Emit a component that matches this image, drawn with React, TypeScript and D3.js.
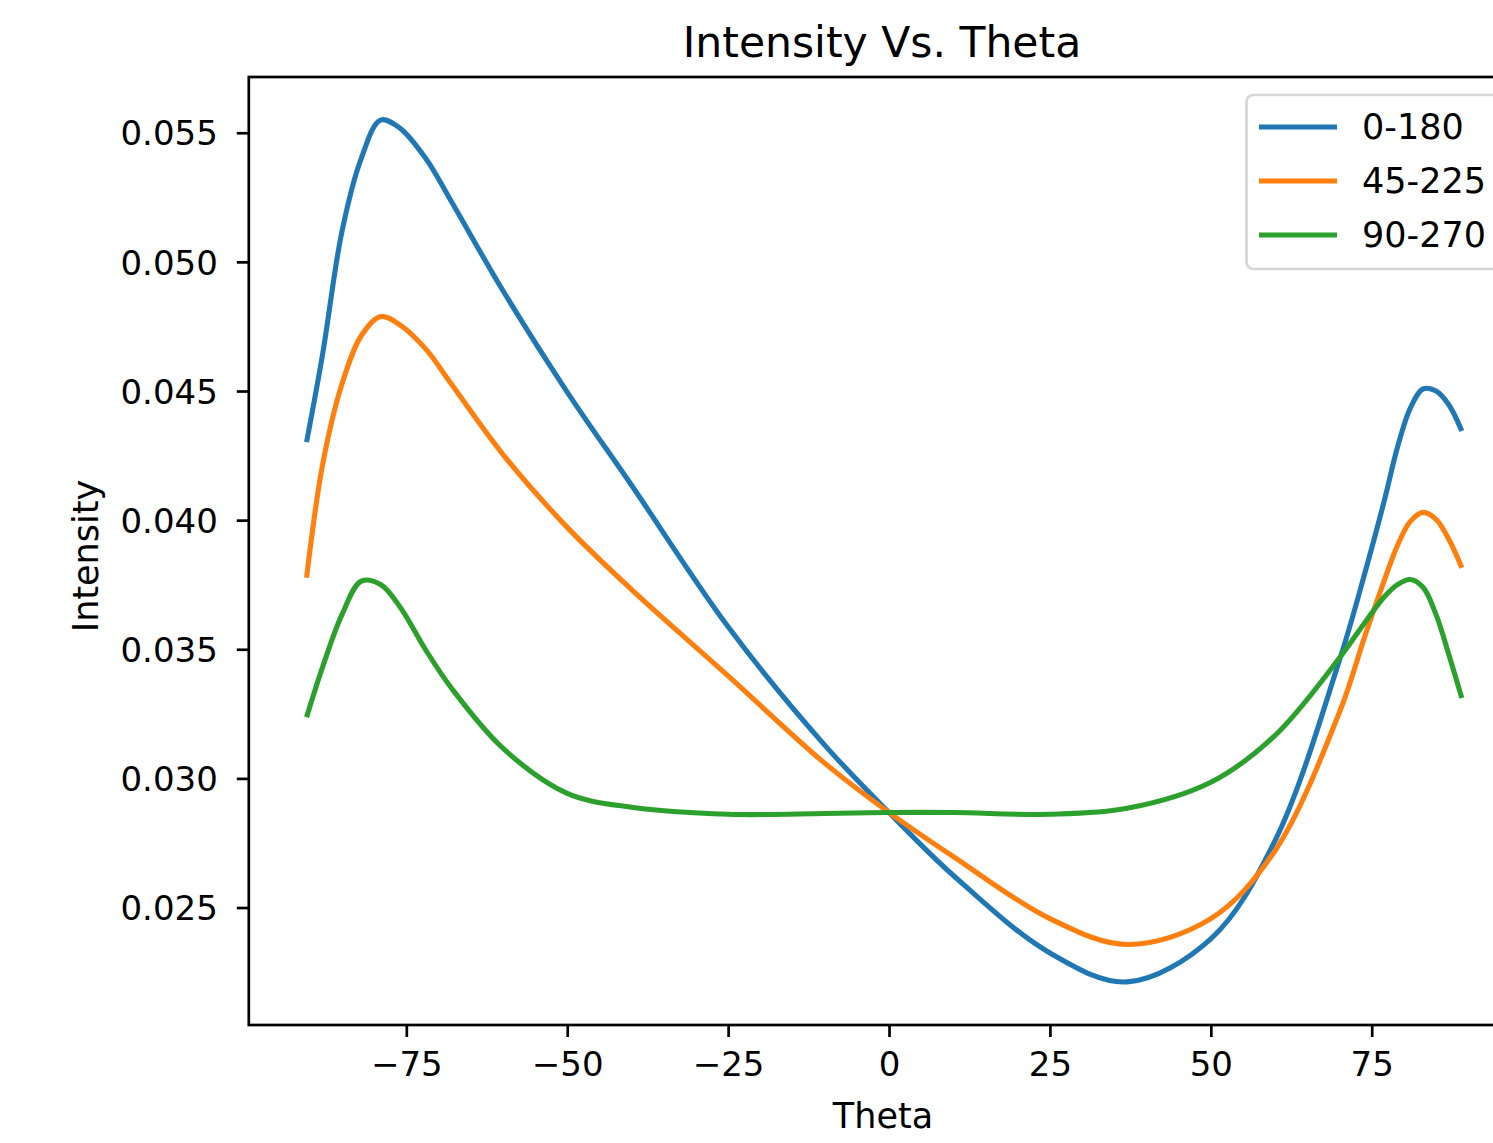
import React, { useEffect, useRef } from "react";
import * as d3 from "d3";

// sample angles (deg) and intensities
const theta = [-90.5, -88, -85, -82, -79, -76, -72, -68, -60, -50, -40, -25, -10, 0, 10, 25, 37, 50, 60, 70, 74, 77, 79, 81, 83, 85, 87, 89];
const s0_180 = [0.04302, 0.04644, 0.05118, 0.05401, 0.05549, 0.05518, 0.05401, 0.05234, 0.04889, 0.04496, 0.04135, 0.03587, 0.03129, 0.02868, 0.02624, 0.02324, 0.02212, 0.02379, 0.0276, 0.03459, 0.03801, 0.0408, 0.04282, 0.04434, 0.04508, 0.045, 0.04446, 0.04345];
const s45_225 = [0.03777, 0.04216, 0.04527, 0.04714, 0.04788, 0.04756, 0.04663, 0.04527, 0.04255, 0.03972, 0.03731, 0.03397, 0.03059, 0.02868, 0.02697, 0.02457, 0.02357, 0.02457, 0.02721, 0.03257, 0.03556, 0.0377, 0.03902, 0.03995, 0.0403, 0.04003, 0.03925, 0.03816];
const s90_270 = [0.03237, 0.03432, 0.03634, 0.03764, 0.03751, 0.03665, 0.03498, 0.0335, 0.03117, 0.02942, 0.02888, 0.02861, 0.02864, 0.02868, 0.02868, 0.02861, 0.02884, 0.02985, 0.03167, 0.03467, 0.03606, 0.03704, 0.0375, 0.0377, 0.03739, 0.03634, 0.03478, 0.03311];
const labels = ["0-180", "45-225", "90-270"];
const colors = ["#1f77b4", "#ff7f0e", "#2ca02c"];
const xTicks = [-75, -50, -25, 0, 25, 50, 75];
const yTicks = [0.025, 0.03, 0.035, 0.04, 0.045, 0.05, 0.055];

function App() {
  const ref = useRef(null);

  useEffect(() => {
    const svg = d3.select(ref.current);
    svg.selectAll("*").remove();
    const font = "DejaVu Sans";
    const series = [s0_180, s45_225, s90_270];

    const left = 248.8, top = 77, bottom = 1025;
    const xExt = d3.extent(theta);
    const xPad = (xExt[1] - xExt[0]) * 0.05;
    const xScale = d3
      .scaleLinear()
      .domain([xExt[0] - xPad, xExt[1] + xPad])
      .range([left, left + 6.436 * (xExt[1] - xExt[0] + 2 * xPad)]);
    const all = series.flat();
    const yExt = d3.extent(all);
    const yPad = (yExt[1] - yExt[0]) * 0.05;
    const yScale = d3
      .scaleLinear()
      .domain([yExt[0] - yPad, yExt[1] + yPad])
      .range([bottom, top]);

    const right = xScale.range()[1];

    // lines
    const line = d3
      .line()
      .x((d) => xScale(d[0]))
      .y((d) => yScale(d[1]))
      .curve(d3.curveCatmullRom.alpha(0.5));
    series.forEach((vals, i) => {
      svg
        .append("path")
        .attr("d", line(theta.map((t, j) => [t, vals[j]])))
        .attr("fill", "none")
        .attr("stroke", colors[i])
        .attr("stroke-width", 5.1);
    });

    // frame
    svg
      .append("rect")
      .attr("x", left)
      .attr("y", top)
      .attr("width", right - left)
      .attr("height", bottom - top)
      .attr("fill", "none")
      .attr("stroke", "#000")
      .attr("stroke-width", 2.7);

    // x axis
    const xAxisG = svg.append("g").attr("transform", `translate(0, ${bottom})`);
    xAxisG.call(
      d3.axisBottom(xScale).tickValues(xTicks).tickSize(12).tickPadding(15).tickSizeOuter(0)
    );
    xAxisG.select(".domain").remove();
    xAxisG.selectAll(".tick line").attr("stroke", "#000").attr("stroke-width", 2.7);
    xAxisG
      .selectAll(".tick text")
      .attr("font-family", font)
      .attr("font-size", 34)
      .attr("fill", "#000");

    // y axis
    const yAxisG = svg.append("g").attr("transform", `translate(${left}, 0)`);
    yAxisG.call(
      d3
        .axisLeft(yScale)
        .tickValues(yTicks)
        .tickFormat(d3.format(".3f"))
        .tickSize(12)
        .tickPadding(19)
        .tickSizeOuter(0)
    );
    yAxisG.select(".domain").remove();
    yAxisG.selectAll(".tick line").attr("stroke", "#000").attr("stroke-width", 2.7);
    yAxisG
      .selectAll(".tick text")
      .attr("font-family", font)
      .attr("font-size", 34)
      .attr("dy", "0.36em")
      .attr("fill", "#000");

    const cx = 882;

    // title and labels
    svg
      .append("text")
      .attr("x", cx)
      .attr("y", 57)
      .attr("text-anchor", "middle")
      .attr("font-family", font)
      .attr("font-size", 42.5)
      .text("Intensity Vs. Theta");
    svg
      .append("text")
      .attr("x", cx + 1)
      .attr("y", 1128)
      .attr("text-anchor", "middle")
      .attr("font-family", font)
      .attr("font-size", 35)
      .text("Theta");
    svg
      .append("text")
      .attr("transform", `translate(98, 556) rotate(-90)`)
      .attr("text-anchor", "middle")
      .attr("font-family", font)
      .attr("font-size", 35)
      .text("Intensity");

    // legend
    const lg = svg.append("g");
    lg.append("rect")
      .attr("x", 1246.5)
      .attr("y", 95)
      .attr("width", 320)
      .attr("height", 174)
      .attr("rx", 7)
      .attr("fill", "#fff")
      .attr("fill-opacity", 0.8)
      .attr("stroke", "#d6d6d6")
      .attr("stroke-width", 2.7);
    labels.forEach((lab, i) => {
      const y = 127 + i * 54;
      lg.append("line")
        .attr("x1", 1259)
        .attr("x2", 1337)
        .attr("y1", y)
        .attr("y2", y)
        .attr("stroke", colors[i])
        .attr("stroke-width", 5.1);
      lg.append("text")
        .attr("x", 1362)
        .attr("y", y + 12)
        .attr("font-family", font)
        .attr("font-size", 35)
        .text(lab);
    });
  }, []);

  return (
    <svg
      ref={ref}
      width={1493}
      height={1143}
      style={{ position: "absolute", left: 0, top: 0, background: "#fff" }}
    ></svg>
  );
}

export default App;
